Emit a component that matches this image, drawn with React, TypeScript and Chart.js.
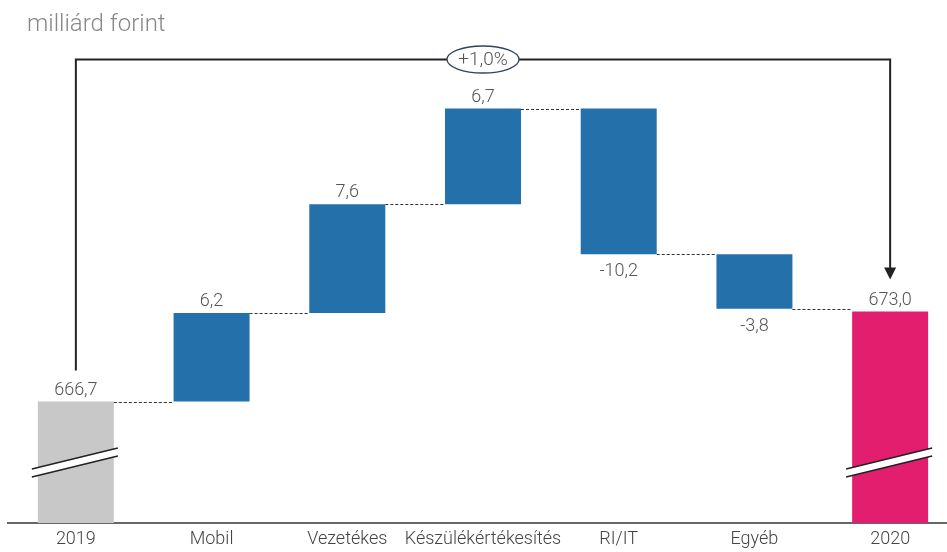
import React, { useEffect, useRef } from "react";
import { Chart, registerables } from "chart.js";

Chart.register(...registerables);

// ---- data ----
const categories = ["2019", "Mobil", "Vezetékes", "Készülékértékesítés", "RI/IT", "Egyéb", "2020"];
const startValue = 666.7;
const deltas = [6.2, 7.6, 6.7, -10.2, -3.8];
const endValue = 673.0;
const valueLabels = ["666,7", "6,2", "7,6", "6,7", "-10,2", "-3,8", "673,0"];
const changeLabel = "+1,0%";
const axisMin = 658.2;
const axisMax = 692;
const title = "milliárd forint";

const GRAY = "#c8c8c8";
const BLUE = "#2370aa";
const MAGENTA = "#e31e6e";
const FONT = "Roboto";

function buildRanges() {
  const ranges: [number, number][] = [[axisMin, startValue]];
  const levels: number[] = [startValue];
  let run = startValue;
  for (const d of deltas) {
    ranges.push([run, run + d]);
    run += d;
    levels.push(run);
  }
  ranges.push([axisMin, endValue]);
  levels.push(endValue);
  return { ranges, levels };
}

export default function App() {
  const ref = useRef<HTMLCanvasElement | null>(null);
  useEffect(() => {
    if (!ref.current) return;
    const { ranges, levels } = buildRanges();
    const colors = categories.map((_, i) => (i === 0 ? GRAY : i === categories.length - 1 ? MAGENTA : BLUE));

    const overlay = {
      id: "overlay",
      afterDatasetsDraw(chart: any) {
        const ctx = chart.ctx as CanvasRenderingContext2D;
        const xs = chart.scales.x;
        const ys = chart.scales.y;
        const meta = chart.getDatasetMeta(0);
        const area = chart.chartArea;
        const n = categories.length;
        const geo = meta.data.map((el: any, i: number) => {
          const a = ys.getPixelForValue(ranges[i][0]);
          const b = ys.getPixelForValue(ranges[i][1]);
          return {
            left: el.x - el.width / 2,
            right: el.x + el.width / 2,
            cx: el.x,
            top: Math.min(a, b),
            bottom: Math.max(a, b),
          };
        });

        // connectors
        ctx.save();
        ctx.strokeStyle = "#333";
        ctx.lineWidth = 1;
        ctx.setLineDash([3, 2]);
        for (let i = 0; i < n - 1; i++) {
          const y = Math.round(ys.getPixelForValue(levels[i])) + 0.5;
          ctx.beginPath();
          ctx.moveTo(geo[i].right, y);
          ctx.lineTo(geo[i + 1].left, y);
          ctx.stroke();
        }
        ctx.restore();

        // break marks on the first and last bars
        for (const i of [0, n - 1]) {
          const g = geo[i];
          const x1 = g.left - 6;
          const x2 = g.right + 4;
          const y1 = area.bottom - 54;
          const y2 = area.bottom - 75;
          const gap = 8;
          ctx.save();
          ctx.fillStyle = "#fff";
          ctx.beginPath();
          ctx.moveTo(x1, y1);
          ctx.lineTo(x2, y2);
          ctx.lineTo(x2, y2 + gap);
          ctx.lineTo(x1, y1 + gap);
          ctx.closePath();
          ctx.fill();
          ctx.strokeStyle = "#222";
          ctx.lineWidth = 1.5;
          ctx.beginPath();
          ctx.moveTo(x1, y1);
          ctx.lineTo(x2, y2);
          ctx.moveTo(x1, y1 + gap);
          ctx.lineTo(x2, y2 + gap);
          ctx.stroke();
          ctx.restore();
        }

        // value labels
        ctx.save();
        ctx.font = `300 18px ${FONT}`;
        ctx.fillStyle = "#555";
        ctx.textAlign = "center";
        ctx.textBaseline = "alphabetic";
        for (let i = 0; i < n; i++) {
          const neg = i > 0 && i < n - 1 && deltas[i - 1] < 0;
          const y = neg ? geo[i].bottom + 22 : geo[i].top - 7;
          ctx.fillText(valueLabels[i], geo[i].cx, y);
        }
        ctx.restore();

        // bracket with arrow
        const xa = geo[0].cx;
        const xb = geo[n - 1].cx;
        const yb = area.top + 19.5;
        const yStart = geo[0].top - 31;
        const tip = geo[n - 1].top - 32;
        ctx.save();
        ctx.strokeStyle = "#222";
        ctx.lineWidth = 2;
        ctx.beginPath();
        ctx.moveTo(xa, yStart);
        ctx.lineTo(xa, yb);
        ctx.lineTo(xb, yb);
        ctx.lineTo(xb, tip - 10);
        ctx.stroke();
        ctx.fillStyle = "#222";
        ctx.beginPath();
        ctx.moveTo(xb - 6, tip - 12);
        ctx.lineTo(xb + 6, tip - 12);
        ctx.lineTo(xb, tip);
        ctx.closePath();
        ctx.fill();

        // ellipse with change
        const ex = xs.getPixelForValue(3);
        ctx.beginPath();
        ctx.ellipse(ex, yb, 36, 13.5, 0, 0, Math.PI * 2);
        ctx.fillStyle = "#fff";
        ctx.fill();
        ctx.lineWidth = 1.3;
        ctx.strokeStyle = "#2f4457";
        ctx.stroke();
        ctx.fillStyle = "#555";
        ctx.font = `300 19px ${FONT}`;
        ctx.textAlign = "center";
        ctx.textBaseline = "middle";
        ctx.fillText(changeLabel, ex, yb + 1);
        ctx.restore();

        // title
        ctx.save();
        ctx.font = `300 24px ${FONT}`;
        ctx.fillStyle = "#888";
        ctx.textAlign = "left";
        ctx.textBaseline = "alphabetic";
        ctx.fillText(title, 27, 31);
        ctx.restore();
      },
    };

    const chart = new Chart(ref.current, {
      type: "bar",
      data: {
        labels: categories,
        datasets: [
          {
            data: ranges as any,
            backgroundColor: colors,
            borderWidth: 0,
            barPercentage: 0.56,
            categoryPercentage: 1,
          },
        ],
      },
      options: {
        responsive: false,
        animation: false,
        devicePixelRatio: 1,
        layout: { padding: { top: 40, left: 8, right: 2, bottom: 0 } },
        plugins: { legend: { display: false }, tooltip: { enabled: false }, title: { display: false } },
        scales: {
          x: {
            grid: { display: false, drawTicks: false },
            border: { display: true, color: "#666", width: 2 },
            ticks: { color: "#444", font: { family: FONT, size: 18, weight: "300" as any }, padding: 6, maxRotation: 0, autoSkip: false },
            afterFit: (s: any) => {
              s.height = 29;
            },
          },
          y: { display: false, min: axisMin, max: axisMax },
        },
      },
      plugins: [overlay],
    });
    return () => chart.destroy();
  }, []);

  return (
    <div style={{ position: "fixed", left: 0, top: 0, width: 947, height: 552, overflow: "hidden", background: "#fff" }}>
      <canvas ref={ref} width={960} height={552} style={{ width: 960, height: 552, display: "block" }} />
    </div>
  );
}
